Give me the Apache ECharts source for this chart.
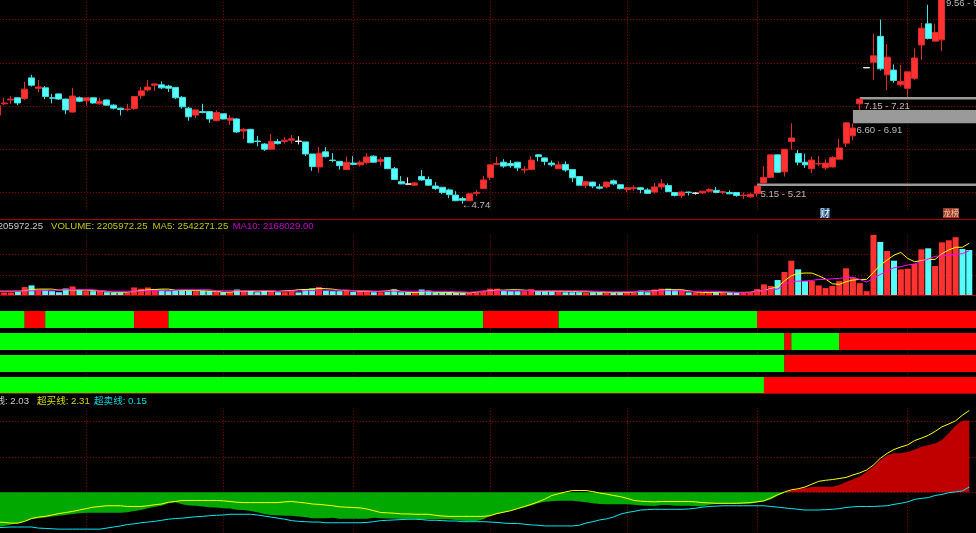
<!DOCTYPE html>
<html>
<head>
<meta charset="UTF-8">
<title>K线</title>
<style>
html,body{margin:0;padding:0;background:#000;}
#main{width:976px;height:533px;}
</style>
<script src="https://cdn.jsdelivr.net/npm/echarts@6/dist/echarts.min.js"></script>
</head>
<body>
<div id="main"></div>
<script>
// daily prices (last four sit above the visible area)
var opens = [
6.79,7.05,7.14,7.19,7.17,7.65,7.41,7.42,7.19,7.28,
7.16,6.86,7.19,7.12,7.19,7.05,7.14,7.02,6.95,6.92,
6.94,7.24,7.37,7.48,7.49,7.46,7.43,7.20,6.95,6.79,
6.87,6.87,6.66,6.82,6.67,6.70,6.42,6.46,6.19,6.12,
6.00,6.18,6.18,6.21,6.19,6.17,5.89,5.59,5.94,5.75,
5.72,5.53,5.68,5.64,5.69,5.84,5.72,5.81,5.55,5.25,
5.20,5.17,5.37,5.30,5.15,5.12,5.06,4.94,4.86,4.81,
4.98,5.09,5.35,5.65,5.70,5.67,5.70,5.52,5.53,5.87,
5.80,5.68,5.55,5.65,5.53,5.37,5.17,5.24,5.13,5.13,
5.27,5.18,5.07,5.09,5.11,5.06,5.01,5.13,5.16,5.00,
4.93,5.01,4.98,4.99,5.03,5.05,5.00,5.00,5.00,4.93,
4.90,4.98,5.22,5.35,5.87,5.48,6.18,5.90,5.70,5.55,
5.66,5.57,5.59,5.77,6.14,6.31,7.05,7.88,8.01,8.61,
7.72,7.83,7.49,7.41,7.64,8.41,8.90,8.50,8.53,9.90,
10.60,11.20,10.90];
var closes = [
7.01,7.07,7.16,7.07,7.39,7.48,7.44,7.22,7.18,7.16,
6.91,7.23,7.11,7.19,7.07,7.11,7.02,6.95,6.92,6.93,
7.22,7.35,7.44,7.51,7.42,7.41,7.19,6.98,6.75,6.91,
6.85,6.70,6.85,6.70,6.72,6.40,6.46,6.15,6.18,6.00,
6.18,6.13,6.21,6.24,6.18,5.89,5.60,5.91,5.83,5.74,
5.62,5.70,5.65,5.70,5.82,5.70,5.76,5.55,5.30,5.20,
5.19,5.22,5.29,5.17,5.09,5.00,4.95,4.81,4.82,4.97,
5.00,5.29,5.64,5.67,5.61,5.62,5.57,5.54,5.75,5.83,
5.72,5.64,5.64,5.52,5.34,5.17,5.25,5.15,5.10,5.24,
5.20,5.09,5.11,5.11,5.07,4.98,5.13,5.20,5.02,4.93,
5.01,5.00,4.99,5.03,5.07,5.00,5.02,4.97,4.93,4.94,
4.96,5.15,5.35,5.87,5.47,6.00,6.26,5.70,5.64,5.75,
5.67,5.68,5.81,6.03,6.61,6.49,7.16,7.89,8.16,7.86,
8.13,7.59,7.57,7.79,8.11,8.80,8.56,8.70,9.56,10.80,
11.30,10.90,10.60];
var lows = [
6.75,7.02,7.05,7.02,7.14,7.45,7.32,7.16,7.06,7.14,
6.81,6.85,7.09,7.01,7.05,7.03,7.01,6.92,6.78,6.88,
6.91,7.16,7.33,7.35,7.39,7.32,7.16,6.94,6.66,6.72,
6.83,6.61,6.65,6.69,6.56,6.38,6.24,6.14,6.07,5.96,
5.99,6.11,6.13,6.13,6.11,5.84,5.50,5.46,5.81,5.70,
5.53,5.52,5.63,5.60,5.65,5.69,5.62,5.54,5.29,5.19,
5.17,5.15,5.27,5.15,5.06,4.96,4.87,4.80,4.74,4.80,
4.92,5.08,5.29,5.63,5.57,5.57,5.50,5.44,5.53,5.72,
5.63,5.60,5.54,5.48,5.24,5.16,5.10,5.10,5.07,5.10,
5.17,5.07,5.01,5.04,4.98,4.97,4.97,5.07,5.01,4.91,
4.87,4.93,4.95,4.97,5.00,4.98,4.96,4.96,4.90,4.85,
4.87,4.90,5.21,5.34,5.46,5.37,5.99,5.63,5.57,5.45,
5.61,5.52,5.58,5.77,6.05,6.21,6.91,7.88,7.60,7.82,
7.37,7.54,7.45,7.21,7.60,8.06,8.54,8.50,8.27,9.80,
10.50,10.80,10.50];
var highs = [
7.03,7.19,7.23,7.20,7.56,7.72,7.60,7.46,7.28,7.29,
7.17,7.42,7.22,7.19,7.19,7.19,7.15,7.04,6.96,7.05,
7.23,7.44,7.60,7.52,7.57,7.49,7.44,7.23,6.98,6.91,
7.05,6.88,6.90,6.82,6.79,6.72,6.49,6.47,6.31,6.14,
6.35,6.24,6.28,6.33,6.30,6.17,5.89,6.05,6.05,5.91,
5.73,5.83,5.84,5.74,5.91,5.86,5.81,5.82,5.59,5.38,
5.35,5.24,5.52,5.37,5.24,5.13,5.09,5.03,4.90,4.97,
5.06,5.38,5.65,5.83,5.77,5.75,5.71,5.61,5.84,5.89,
5.81,5.74,5.72,5.72,5.54,5.38,5.26,5.25,5.20,5.25,
5.30,5.20,5.13,5.17,5.13,5.10,5.22,5.31,5.21,5.00,
5.04,5.02,5.01,5.04,5.10,5.13,5.04,5.05,5.00,5.00,
4.99,5.15,5.61,5.87,5.88,6.01,6.60,5.98,5.90,5.83,
5.84,5.77,5.84,6.24,6.63,6.60,7.17,7.88,8.67,9.00,
8.43,7.96,7.95,7.79,8.33,8.92,9.34,8.90,9.56,11.00,
11.50,11.40,11.10];

// volume in millions of shares
var volumes = [
.15,.15,.15,.18,.41,.49,.28,.28,.21,.16,
.34,.44,.28,.21,.21,.23,.16,.15,.15,.13,
.39,.33,.39,.29,.28,.21,.24,.23,.23,.21,
.23,.23,.21,.16,.18,.29,.21,.23,.16,.24,
.24,.16,.16,.23,.15,.31,.34,.41,.24,.21,
.21,.28,.18,.21,.21,.16,.16,.18,.29,.16,
.16,.16,.29,.24,.16,.15,.15,.15,.13,.13,
.13,.24,.33,.33,.23,.21,.21,.21,.31,.21,
.21,.21,.21,.16,.16,.16,.13,.16,.16,.15,
.15,.15,.15,.13,.24,.16,.29,.33,.33,.28,
.26,.15,.16,.13,.13,.15,.16,.16,.13,.15,
.15,.31,.54,.46,.75,1.14,1.69,1.27,.70,.70,
.49,.36,.46,.70,1.32,.88,.60,.21,2.94,2.60,
2.16,1.69,1.27,1.30,1.53,2.24,2.29,1.43,2.58,2.68,
2.83,2.26,2.21];
var ma5 = [
.21,.21,.21,.21,.23,.29,.31,.31,.31,.26,
.28,.26,.26,.26,.24,.23,.20,.16,.16,.16,
.20,.24,.28,.29,.31,.31,.26,.24,.24,.24,
.23,.21,.21,.16,.16,.20,.21,.21,.21,.21,
.21,.20,.23,.24,.28,.29,.31,.34,.33,.31,
.26,.24,.23,.21,.21,.20,.20,.23,.28,.20,
.16,.15,.16,.20,.16,.15,.15,.13,.13,.13,
.16,.20,.23,.26,.26,.28,.28,.26,.24,.21,
.21,.21,.21,.20,.20,.18,.18,.18,.16,.16,
.15,.15,.15,.16,.20,.21,.23,.26,.28,.28,
.28,.23,.18,.15,.15,.15,.16,.16,.15,.15,
.16,.21,.24,.34,.42,.71,.96,1.07,1.09,1.09,
.96,.80,.57,.54,.67,.75,.78,.78,1.12,1.48,
1.72,1.96,2.09,1.80,1.64,1.69,1.75,1.75,2.03,2.21,
2.34,2.34,2.54];
var ma10 = [
.21,.21,.21,.21,.21,.23,.23,.24,.26,.26,
.28,.28,.28,.28,.28,.24,.21,.21,.21,.21,
.21,.21,.21,.23,.24,.24,.26,.28,.28,.28,
.28,.28,.23,.23,.23,.23,.23,.24,.24,.24,
.24,.20,.20,.21,.21,.23,.24,.26,.26,.26,
.26,.26,.24,.24,.23,.21,.21,.21,.21,.21,
.21,.21,.21,.21,.20,.20,.20,.18,.18,.16,
.18,.20,.21,.23,.23,.23,.23,.23,.24,.23,
.23,.23,.23,.23,.23,.23,.23,.21,.20,.18,
.18,.18,.18,.18,.20,.21,.21,.23,.23,.23,
.21,.20,.20,.21,.21,.20,.18,.16,.15,.15,
.15,.20,.24,.29,.31,.54,.67,.70,.70,.73,
.78,.78,.81,.83,.88,.88,.78,.65,.83,1.02,
1.19,1.35,1.40,1.48,1.53,1.64,1.77,1.90,1.92,1.96,
2.00,2.03,2.17];

// lower indicator: main line, 超买线, 超卖线
var mainLine = [
-.97,-.95,-.91,-.88,-.82,-.76,-.73,-.71,-.68,-.66,
-.64,-.61,-.59,-.58,-.58,-.58,-.58,-.58,-.58,-.56,
-.53,-.50,-.45,-.41,-.38,-.31,-.28,-.34,-.37,-.38,
-.40,-.42,-.43,-.45,-.46,-.49,-.50,-.53,-.56,-.61,
-.64,-.65,-.66,-.66,-.68,-.70,-.73,-.73,-.73,
-.72,-.75,-.75,-.75,-.75,-.75,-.72,-.73,-.74,-.74,
-.75,-.75,-.75,-.76,-.76,-.76,-.76,-.76,-.78,-.80,
-.81,-.81,-.76,-.67,-.61,-.57,-.52,-.47,-.43,-.37,
-.31,-.27,-.25,-.24,-.24,-.24,-.26,-.28,-.31,-.33,
-.34,-.34,-.34,-.34,-.35,-.37,-.38,-.39,
-.36,-.36,-.38,-.38,-.38,-.39,-.40,-.35,-.33,-.33,
-.33,-.33,-.33,-.32,-.29,-.26,-.20,-.10,-.01,.05,
.09,.12,.15,.16,.16,.16,.21,.29,.37,.44,
.58,.73,.91,1.05,1.10,1.10,1.14,1.20,1.29,1.33,
1.38,1.48,1.67,1.88,2.02,2.03];
var overBought = [
-.84,-.85,-.87,-.87,-.82,-.74,-.70,-.68,-.64,-.60,
-.57,-.54,-.50,-.46,-.42,-.40,-.38,-.38,-.38,-.40,
-.40,-.40,-.38,-.35,-.33,-.28,-.26,-.23,-.23,-.23,
-.23,-.23,-.23,-.24,-.26,-.28,-.29,-.29,-.29,-.29,
-.29,-.29,-.27,-.26,-.28,-.30,-.33,-.34,-.36,
-.38,-.41,-.42,-.43,-.44,-.47,-.52,-.57,-.58,-.59,
-.61,-.61,-.62,-.62,-.62,-.65,-.67,-.68,-.68,-.68,
-.68,-.68,-.68,-.66,-.60,-.56,-.52,-.46,-.40,-.34,
-.27,-.19,-.09,-.04,.01,.05,.05,.05,.02,-.02,
-.05,-.09,-.12,-.17,-.23,-.25,-.26,-.27,
-.26,-.26,-.26,-.26,-.26,-.27,-.29,-.30,-.31,-.31,
-.31,-.31,-.30,-.29,-.27,-.24,-.16,-.07,.01,.07,
.10,.15,.23,.31,.34,.36,.39,.42,.49,.55,
.63,.77,.96,1.10,1.21,1.28,1.34,1.46,1.53,1.61,
1.72,1.85,1.93,2.02,2.18,2.31];
var overSold = [
-1.00,-.99,-.98,-.98,-.98,-.98,-1.01,-1.02,-1.03,-1.04,
-1.04,-1.04,-1.04,-1.04,-1.04,-1.04,-1.01,-.98,-.95,-.91,
-.89,-.86,-.84,-.82,-.79,-.76,-.74,-.73,-.71,-.69,
-.68,-.66,-.65,-.64,-.62,-.62,-.62,-.62,-.64,-.67,
-.70,-.73,-.76,-.80,-.82,-.83,-.84,-.84,-.86,
-.86,-.86,-.86,-.86,-.86,-.85,-.83,-.80,-.79,-.78,
-.77,-.76,-.76,-.77,-.79,-.79,-.80,-.81,-.81,-.83,
-.83,-.83,-.83,-.84,-.85,-.87,-.88,-.88,-.90,-.92,
-.93,-.95,-.95,-.95,-.95,-.95,-.93,-.87,-.83,-.78,
-.75,-.70,-.62,-.57,-.54,-.50,-.49,-.48,
-.48,-.48,-.48,-.48,-.47,-.45,-.42,-.40,-.39,-.38,
-.38,-.38,-.38,-.38,-.38,-.38,-.40,-.42,-.44,-.46,
-.48,-.50,-.50,-.50,-.49,-.48,-.46,-.43,-.41,-.40,
-.40,-.40,-.39,-.38,-.34,-.31,-.27,-.20,-.17,-.15,
-.09,-.06,-.01,.01,.04,.15];

// signal strips: [row, from bar, to bar, 1 = red]
var signalRuns = [
[0,0,4,0],[0,4,7,1],[0,7,20,0],[0,20,25,1],[0,25,71,0],[0,71,82,1],[0,82,111,0],[0,111,143,1],
[1,0,115,0],[1,115,116,1],[1,116,123,0],[1,123,143,1],
[2,0,115,0],[2,115,143,1],
[3,0,112,0],[3,112,143,1]
];
// unfilled price gaps: [bar, low, high]
var priceGaps = [[111,5.15,5.21],[125,6.60,6.91],[126,7.15,7.21]];
var monthBars = [13,33,52,72,92,111,133];
var whiteBars = [44,60,102,127];

var barIndex = [];
for (var i = 0; i <= closes.length; i++) barIndex.push(i);
var lastBar = barIndex.length - 1;

var GRID = '#8c0000';
var dotted = {color: GRID, width: 1, type: [1, 2], opacity: 1};

// vertical month lines for one panel
function monthLines(from, to) {
    return {
        silent: true, symbol: 'none', animation: false, z: 1,
        label: {show: false}, emphasis: {disabled: true},
        lineStyle: dotted,
        data: monthBars.map(function (b) {
            return [{xAxis: b, yAxis: from}, {xAxis: b, yAxis: to}];
        })
    };
}

var candleData = closes.map(function (c, i) {
    var row = {value: [opens[i], c, lows[i], highs[i]]};
    if (whiteBars.indexOf(i) >= 0) {
        row.itemStyle = {color: '#e8e8e8', color0: '#e8e8e8', borderColor: '#e8e8e8', borderColor0: '#e8e8e8'};
    }
    return row;
});
var volumeData = volumes.map(function (v, i) {
    return {value: v, itemStyle: {color: closes[i] > opens[i] ? '#ff3232' : '#54ffff'}};
});

function xAxisFor(idx) {
    return {gridIndex: idx, type: 'category', data: barIndex, show: false};
}
function gridAt(top, height) {
    return {left: -6.12, width: 985.68, top: top, height: height, outerBoundsMode: 'none'};
}
function txt(text, x, y, fill, align) {
    return {type: 'text', silent: true, z: 100, style: {
        text: text, x: x, y: y, fill: fill, textAlign: align || 'left', textVerticalAlign: 'middle',
        font: "9.6px 'Liberation Sans','Noto Sans CJK SC',sans-serif"
    }};
}
function rule(y) {
    return {type: 'line', silent: true, z: 90, shape: {x1: 0, y1: y, x2: 976, y2: y},
        style: {stroke: '#a80000', lineWidth: 1}};
}

var chart = echarts.init(document.getElementById('main'), null, {renderer: 'canvas'});
chart.setOption({
    animation: false,
    backgroundColor: '#000',
    grid: [gridAt(-23.75, 259.5), gridAt(233.7, 61.8), gridAt(308.5, 88), gridAt(386.1, 148.7)],
    xAxis: [xAxisFor(0), xAxisFor(1), xAxisFor(2), xAxisFor(3)],
    yAxis: [
        {gridIndex: 0, type: 'value', min: 4, max: 10, interval: 1, axisLine: {show: false}, axisTick: {show: false}, axisLabel: {show: false},
            splitLine: {show: true, showMinLine: false, showMaxLine: false, lineStyle: dotted}},
        {gridIndex: 1, type: 'value', min: 0, max: 3, interval: 1, axisLine: {show: false}, axisTick: {show: false}, axisLabel: {show: false},
            splitLine: {show: true, showMinLine: false, showMaxLine: false, lineStyle: dotted}},
        {gridIndex: 2, type: 'category', data: [0, 1, 2, 3], inverse: true, show: false},
        {gridIndex: 3, type: 'value', min: -1.2, max: 3, show: false}
    ],
    series: [
        {
            name: 'K', type: 'candlestick', xAxisIndex: 0, yAxisIndex: 0, barWidth: 6.5, clip: true,
            data: candleData,
            itemStyle: {color: '#ff3232', color0: '#54ffff', borderColor: '#e02a2a', borderColor0: '#40e0e0', borderWidth: 1},
            markLine: monthLines(4.6, 10),
            markArea: {
                silent: true, animation: false, z: 1.5,
                itemStyle: {color: '#9a9a9a'},
                label: {show: false},
                data: priceGaps.map(function (g) {
                    return [{xAxis: g[0], yAxis: g[2]}, {xAxis: lastBar, yAxis: g[1]}];
                })
            }
        },
        {
            name: 'VOLUME', type: 'bar', xAxisIndex: 1, yAxisIndex: 1, barWidth: 6, data: volumeData,
            markLine: monthLines(0, 2.94)
        },
        {name: 'MA5', type: 'line', xAxisIndex: 1, yAxisIndex: 1, data: ma5, symbol: 'none', z: 3,
            lineStyle: {color: '#ffff00', width: 1}},
        {name: 'MA10', type: 'line', xAxisIndex: 1, yAxisIndex: 1, data: ma10, symbol: 'none', z: 3,
            lineStyle: {color: '#ff00ff', width: 1}},
        {
            name: 'signal', type: 'custom', xAxisIndex: 2, yAxisIndex: 2, data: signalRuns,
            encode: {x: [1, 2], y: 0},
            renderItem: function (params, api) {
                var a = api.coord([api.value(1), api.value(0)]);
                var b = api.coord([api.value(2), api.value(0)]);
                return {type: 'rect', shape: {x: a[0], y: a[1] - 8.5, width: b[0] - a[0], height: 17},
                    style: {fill: api.value(3) ? '#ff0000' : '#00ff00'}};
            },
            markLine: monthLines(0, 3)
        },
        {
            name: 'below', type: 'line', xAxisIndex: 3, yAxisIndex: 3, symbol: 'none',
            data: mainLine.map(function (v) { return Math.min(v, 0); }),
            lineStyle: {width: 0}, areaStyle: {color: '#00a800', opacity: 1}, z: 2,
            markLine: {
                silent: true, symbol: 'none', animation: false, z: 1, label: {show: false},
                lineStyle: dotted,
                data: [{yAxis: 0}, {yAxis: 1}, {yAxis: 2}].concat(monthBars.map(function (b) {
                    return [{xAxis: b, yAxis: -1.2}, {xAxis: b, yAxis: 2.32}];
                }))
            }
        },
        {
            name: 'above', type: 'line', xAxisIndex: 3, yAxisIndex: 3, symbol: 'none',
            data: mainLine.map(function (v) { return Math.max(v, 0); }),
            lineStyle: {width: 0}, areaStyle: {color: '#c00000', opacity: 1}, z: 2
        },
        {name: '超买线', type: 'line', xAxisIndex: 3, yAxisIndex: 3, symbol: 'none', data: overBought, z: 3,
            clip: false, lineStyle: {color: '#ffff00', width: 1}},
        {name: '超卖线', type: 'line', xAxisIndex: 3, yAxisIndex: 3, symbol: 'none', data: overSold, z: 3,
            clip: false, lineStyle: {color: '#00e8f0', width: 1}}
    ],
    graphic: [
        rule(219.5), rule(295.5), rule(393.5),
        txt('9.56 - 9', 946, 3, '#b8b8b8'),
        txt('7.15 - 7.21', 864, 106.5, '#b8b8b8'),
        txt('6.60 - 6.91', 856.5, 130, '#b8b8b8'),
        txt('5.15 - 5.21', 760.5, 194, '#b8b8b8'),
        txt('←4.74', 462, 205, '#b8b8b8'),
        txt('2205972.25', 43, 226, '#c8c8c8', 'right'),
        txt('VOLUME: 2205972.25', 51, 226, '#c4c400'),
        txt('MA5: 2542271.25', 152.5, 226, '#c4c400'),
        txt('MA10: 2168029.00', 232.5, 226, '#c400c4'),
        txt('白线: 2.03', 29, 401.5, '#c8c8c8', 'right'),
        txt('超买线: 2.31', 37, 401.5, '#d8d800'),
        txt('超卖线: 0.15', 94, 401.5, '#00d8e0'),
        {type: 'rect', silent: true, z: 99, shape: {x: 820, y: 208, width: 10, height: 10}, style: {fill: '#1f4f80'}},
        {type: 'text', silent: true, z: 100, style: {text: '财', x: 825, y: 213, fill: '#fff', textAlign: 'center', textVerticalAlign: 'middle', font: "10px 'Noto Sans CJK SC'"}},
        {type: 'rect', silent: true, z: 99, shape: {x: 943, y: 208, width: 16, height: 10}, style: {fill: '#a03a2a'}},
        {type: 'text', silent: true, z: 100, style: {text: '龙榜', x: 951, y: 213, fill: '#f0d0b0', textAlign: 'center', textVerticalAlign: 'middle', font: "8px 'Noto Sans CJK SC'"}}
    ]
});
</script>
</body>
</html>
